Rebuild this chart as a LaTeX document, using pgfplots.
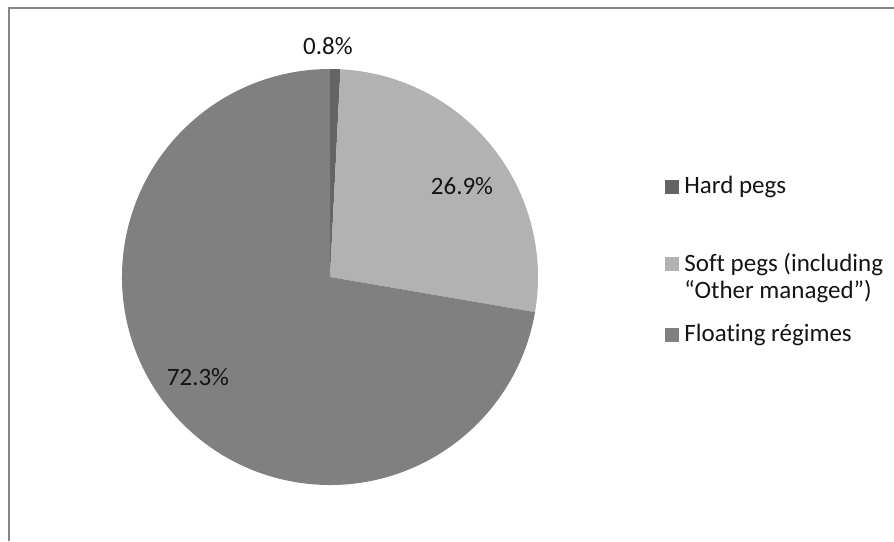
\documentclass[border=0pt]{standalone}
\usepackage{pgfplots}
\usepackage{pgfplotstable}
\pgfplotsset{compat=1.18}
\usepackage{fontspec}
\setmainfont[Ligatures=NoCommon]{Carlito}

\definecolor{hardc}{HTML}{646464}
\definecolor{softc}{HTML}{B2B2B2}
\definecolor{floatc}{HTML}{808080}
\definecolor{framec}{HTML}{868686}
\definecolor{txtc}{HTML}{141414}

% shares of exchange rate regimes, in percent
\pgfplotstableread{
regime share
hard 0.8
soft 26.9
floating 72.3
}\regimes

\pgfplotstablegetelem{0}{share}\of\regimes \let\sA\pgfplotsretval
\pgfplotstablegetelem{1}{share}\of\regimes \let\sB\pgfplotsretval
\pgfplotstablegetelem{2}{share}\of\regimes \let\sC\pgfplotsretval
% slices go clockwise from 12 o'clock
\pgfmathsetmacro\aA{90-3.6*\sA}
\pgfmathsetmacro\aB{\aA-3.6*\sB}
\pgfmathsetmacro\aC{\aB-3.6*\sC}

\begin{document}
\begin{tikzpicture}
\useasboundingbox (0,0) rectangle (447pt,270.5pt);
\begin{axis}[
    anchor=origin, at={(0,0)},
    x=0.5pt, y=0.5pt,
    xmin=0, xmax=894, ymin=0, ymax=541,
    hide axis, clip=false,
]
    % frame (left and top only)
    \draw[framec, line width=1pt] (axis cs:9,0) -- (axis cs:9,533) -- (axis cs:894,533);

    % pie
    \fill[hardc]  (axis cs:330,264) -- ++(90:104pt)  arc[start angle=90,  end angle=\aA, radius=104pt] -- cycle;
    \fill[softc]  (axis cs:330,264) -- ++(\aA:104pt) arc[start angle=\aA, end angle=\aB, radius=104pt] -- cycle;
    \fill[floatc] (axis cs:330,264) -- ++(\aB:104pt) arc[start angle=\aB, end angle=\aC, radius=104pt] -- cycle;

    % data labels
    \node[txtc, font=\fontsize{12.5}{15}\selectfont] at (axis cs:328,495) {\sA\%};
    \node[txtc, font=\fontsize{12.5}{15}\selectfont] at (axis cs:462,355) {\sB\%};
    \node[txtc, font=\fontsize{12.5}{15}\selectfont] at (axis cs:198,164) {\sC\%};

    % legend
    \fill[hardc]  (axis cs:665,347) rectangle (axis cs:679,361);
    \fill[softc]  (axis cs:665,270) rectangle (axis cs:679,284);
    \fill[floatc] (axis cs:665,199) rectangle (axis cs:679,213);
    \node[txtc, anchor=west, inner sep=0pt, font=\fontsize{12.5}{13.5}\selectfont] at (axis cs:684,354) {Hard pegs};
    \node[txtc, anchor=west, inner sep=0pt, align=left, font=\fontsize{12.5}{13.5}\selectfont] at (axis cs:684,263) {Soft pegs (including\\“Other managed”)};
    \node[txtc, anchor=west, inner sep=0pt, font=\fontsize{12.5}{13.5}\selectfont] at (axis cs:684,206) {Floating régimes};
\end{axis}
\end{tikzpicture}
\end{document}
